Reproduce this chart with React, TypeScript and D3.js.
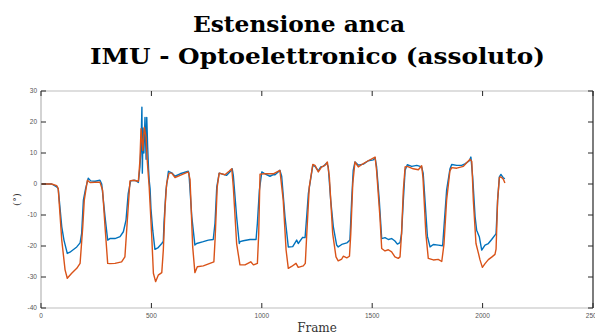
import React from "react";
import * as d3 from "d3";

const titleLines = ["Estensione anca", "IMU - Optoelettronico (assoluto)"];
const xLabel = "Frame";
const yLabel = "(°)";
const xTicks = [0, 500, 1000, 1500, 2000, 2500];
const yTicks = [30, 20, 10, 0, -10, -20, -30, -40];

// IMU series (blue): [frame, degrees]
const imuData: [number, number][] = [
  [0,0],[48,0],[71,-0.9],[78,-1.5],[94,-13.8],[104,-18.1],[119,-22.4],[131,-22.0],[162,-20.3],[177,-19],[184,-16],[192,-5.2],[202,-1.5],[214,1.9],[225,1.0],[245,0.9],[267,1.2],[275,0],[290,-10.6],[302,-18.1],[312,-17.6],[335,-17.6],[358,-17],[373,-15.4],[385,-11.7],[395,-3.1],[406,1.0],[426,1.2],[441,0.5],[448,5.5],[453,11.9],[457,24.8],[459,3.5],[462,18],[466,10],[471,21.5],[476,8],[479,21.5],[483,12],[487,5],[490,1.2],[494,-1.5],[498,-8],[506,-14.9],[516,-21.1],[531,-20.5],[547,-19.2],[554,-18.5],[557,-12.7],[566,-2],[577,4.1],[592,3.6],[607,2.5],[630,3.3],[667,4.1],[670,3.5],[683,-10.6],[697,-19.7],[705,-19.2],[735,-18.6],[758,-18.1],[780,-17.9],[788,-12.7],[796,-1],[807,3.5],[826,3.1],[841,2.8],[859,4.2],[866,4.9],[871,2.8],[886,-10.6],[898,-19.2],[901,-18.6],[916,-18.3],[947,-17.9],[974,-17.9],[980,-12.7],[989,-2],[1000,3.9],[1014,3.3],[1037,2.5],[1052,3.0],[1060,3.0],[1082,4.4],[1090,2.5],[1105,-10.6],[1120,-20.3],[1140,-20.2],[1158,-18.1],[1165,-19.2],[1185,-17.2],[1196,-17.3],[1203,-10.8],[1211,-3],[1231,6],[1241,5.7],[1256,4.2],[1267,5.5],[1279,5.7],[1294,6.8],[1301,5.5],[1312,-5.2],[1324,-13.8],[1339,-19.7],[1346,-20.3],[1362,-19.5],[1385,-19],[1399,-18.1],[1407,-5.2],[1414,4.4],[1422,7.1],[1437,6.1],[1460,6.4],[1482,7.5],[1505,7.8],[1513,8.5],[1520,5.5],[1532,-5.2],[1543,-17.6],[1558,-17.3],[1573,-17.9],[1588,-17.6],[1603,-18.4],[1614,-19.4],[1626,-18.9],[1633,-16],[1641,-5.2],[1649,4.4],[1659,6.2],[1679,5.7],[1702,6.0],[1724,5.5],[1731,3.4],[1739,-5.2],[1750,-16.9],[1762,-20.3],[1777,-19.5],[1799,-19.7],[1819,-19.9],[1825,-14],[1837,-2],[1852,4.8],[1860,6.3],[1883,6.0],[1905,6.0],[1920,6.5],[1940,7.5],[1947,8.7],[1955,2.3],[1966,-10.6],[1973,-14.9],[1985,-17.0],[1996,-21.3],[2011,-19.7],[2026,-19.2],[2041,-17.9],[2056,-16.5],[2061,-16],[2068,-5.2],[2076,2.3],[2083,3.1],[2094,2.0],[2101,1.7]
];

// Optoelectronic series (orange): [frame, degrees]
const optoData: [number, number][] = [
  [0,0],[48,0],[71,-0.5],[78,-1.5],[94,-18.1],[109,-27.7],[119,-30.4],[139,-28.8],[162,-27.2],[177,-25.6],[189,-14],[196,-5.2],[210,1.2],[222,0.5],[267,0.6],[279,-2],[290,-13.8],[302,-25.6],[312,-25.7],[335,-25.6],[365,-25.1],[380,-23.5],[391,-11.7],[403,1.0],[418,1.2],[441,0.9],[448,7.6],[453,17.8],[461,10.8],[468,18.3],[476,15],[481,7.7],[490,-1],[501,-16],[509,-28.8],[519,-31.5],[531,-29.4],[547,-28.6],[554,-21.3],[562,-7.4],[569,0.1],[580,3.5],[592,3.5],[607,2.1],[630,2.8],[667,3.9],[675,1.5],[687,-20.3],[697,-28.6],[708,-26.7],[735,-26.4],[765,-25.6],[783,-25.1],[789,-17],[798,-1],[807,3.5],[833,3.0],[853,4.2],[864,4.9],[871,-1],[886,-19.2],[901,-26.1],[924,-26.1],[950,-25.1],[962,-26.1],[980,-25.6],[986,-16],[992,3.2],[1014,3.3],[1052,3.3],[1082,4.4],[1097,-5.2],[1110,-21.3],[1120,-27.2],[1135,-26.6],[1155,-25.6],[1165,-26.9],[1188,-26.4],[1197,-25.6],[1203,-17],[1215,-1],[1231,6.3],[1241,6],[1256,3.9],[1271,5.5],[1286,6],[1297,7.1],[1306,2.3],[1321,-16],[1336,-23.5],[1346,-24.8],[1362,-24.2],[1369,-23.3],[1385,-23.8],[1397,-23.3],[1403,-16],[1412,0.1],[1422,7.1],[1437,5.5],[1460,6.6],[1482,7.5],[1513,8.7],[1520,4.2],[1535,-10.6],[1543,-20.8],[1558,-21.6],[1573,-21.2],[1588,-21.9],[1603,-23.5],[1618,-24.0],[1626,-23.5],[1633,-16],[1641,-2],[1649,5.5],[1659,5.7],[1686,4.9],[1709,4.6],[1724,5.9],[1730,2],[1743,-16],[1754,-24],[1777,-24.5],[1799,-24.3],[1815,-25],[1825,-19.5],[1837,-5.2],[1852,4.2],[1860,5.3],[1883,5.1],[1913,5.7],[1943,8.0],[1951,7.3],[1958,-5.2],[1970,-19.2],[1981,-22.3],[1988,-24.4],[1999,-26.9],[2011,-25.7],[2026,-24.4],[2041,-23.6],[2056,-22.7],[2061,-21],[2068,-5.2],[2076,2.1],[2083,2.3],[2094,1.5],[2101,0.3]
];

const W = 595;
const H = 334;
const left = 41;
const right = 593;
const top = 91;
const bottom = 308;

export default function App() {
  const x = d3.scaleLinear().domain([0, 2500]).range([left, right]);
  const y = d3.scaleLinear().domain([-40, 30]).range([bottom, top]);
  const line = d3
    .line<[number, number]>()
    .x((d) => x(d[0]))
    .y((d) => y(d[1]));

  const tickLen = 5;
  const serif = "'DejaVu Serif', serif";
  const sans = "'Liberation Sans', Arial, sans-serif";

  return (
    <svg
      width={W}
      height={H}
      style={{ position: "fixed", left: 0, top: 0, background: "#fff" }}
    >
      <rect x={0} y={0} width={W} height={H} fill="#fff" />
      {/* Title */}
      <text
        x={193}
        y={32}
        fontFamily={serif}
        fontWeight="bold"
        fontSize={23}
        textLength={212}
        lengthAdjust="spacingAndGlyphs"
        fill="#000"
      >
        {titleLines[0]}
      </text>
      <text
        x={90}
        y={64}
        fontFamily={serif}
        fontWeight="bold"
        fontSize={23}
        textLength={455}
        lengthAdjust="spacingAndGlyphs"
        fill="#000"
      >
        {titleLines[1]}
      </text>

      {/* Lines */}
      <path d={line(imuData) || ""} fill="none" stroke="#0072BD" strokeWidth={1.4} strokeLinejoin="round" />
      <path d={line(optoData) || ""} fill="none" stroke="#D95319" strokeWidth={1.4} strokeLinejoin="round" />

      {/* Box */}
      <line x1={left} x2={right} y1={top} y2={top} stroke="#bdbdbd" strokeWidth={1.2} />
      <line x1={left} x2={right} y1={bottom} y2={bottom} stroke="#bdbdbd" strokeWidth={1.2} />
      <line x1={left} x2={left} y1={top} y2={bottom} stroke="#c8c8c8" strokeWidth={1.6} />
      <line x1={right} x2={right} y1={top} y2={bottom} stroke="#262626" strokeWidth={1.2} />

      {/* X ticks */}
      {xTicks.map((t) => (
        <g key={"x" + t}>
          <line x1={x(t)} x2={x(t)} y1={bottom} y2={bottom - tickLen} stroke="#262626" strokeWidth={1} />
          <line x1={x(t)} x2={x(t)} y1={top} y2={top + tickLen} stroke="#262626" strokeWidth={1} />
          <text x={x(t)} y={318} textAnchor="middle" fontFamily={sans} fontSize={6.5} fill="#555">
            {t}
          </text>
        </g>
      ))}
      {/* Y ticks */}
      {yTicks.map((t) => (
        <g key={"y" + t}>
          <line x1={left} x2={left + tickLen} y1={y(t)} y2={y(t)} stroke="#262626" strokeWidth={1} />
          <line x1={right} x2={right - tickLen} y1={y(t)} y2={y(t)} stroke="#262626" strokeWidth={1} />
          <text x={37} y={y(t) + 2.3} textAnchor="end" fontFamily={sans} fontSize={6.5} fill="#555">
            {t}
          </text>
        </g>
      ))}

      {/* Axis labels */}
      <text x={(left + right) / 2} y={332} textAnchor="middle" fontFamily={serif} fontSize={12} fill="#333">
        {xLabel}
      </text>
      <text
        transform={`translate(20, ${y(-5)}) rotate(-90)`}
        textAnchor="middle"
        fontFamily={serif}
        fontSize={10}
        fill="#333"
      >
        {yLabel}
      </text>
    </svg>
  );
}
